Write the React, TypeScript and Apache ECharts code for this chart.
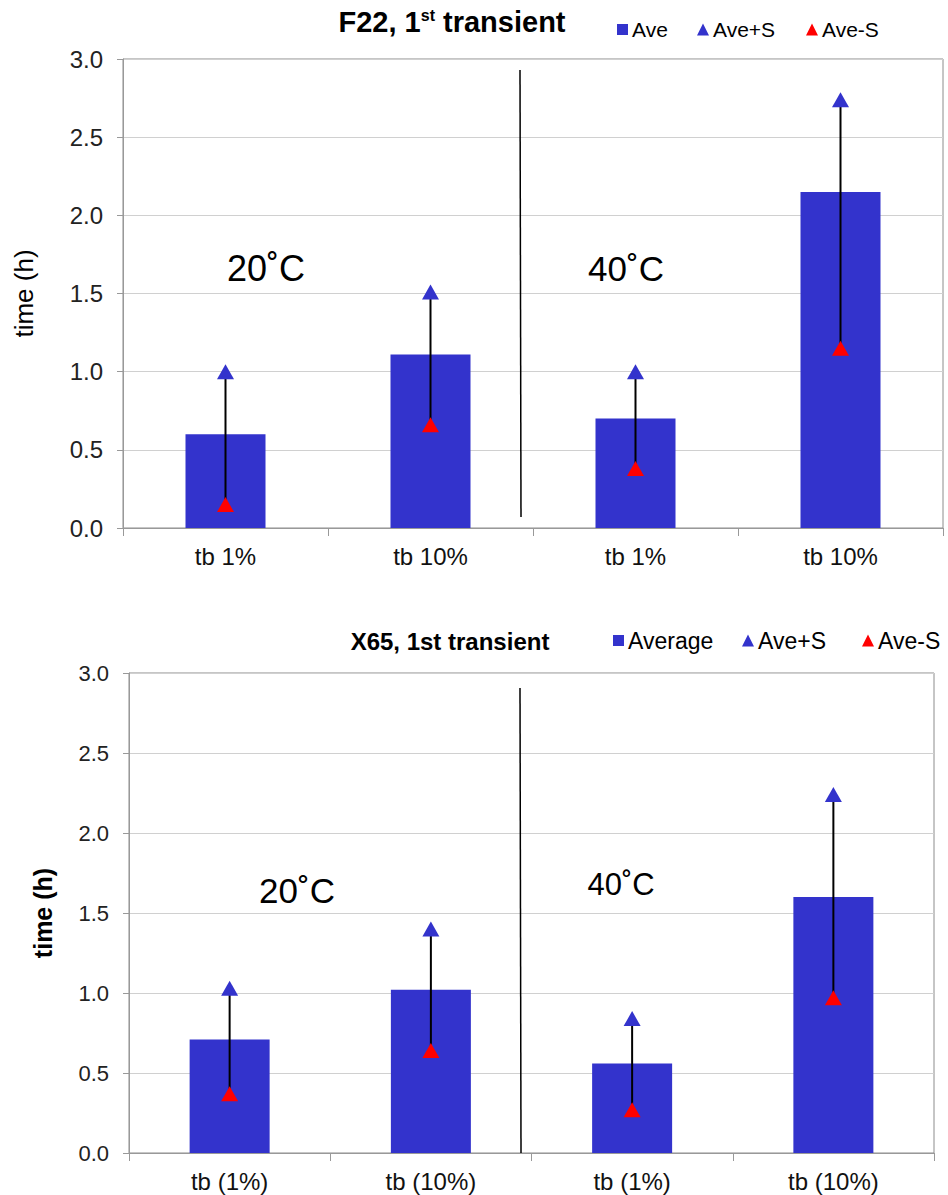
import React, { useEffect, useRef } from "react";
import * as echarts from "echarts";

// ---- Data ----
const topCategories = ["tb 1%", "tb 10%", "tb 1%", "tb 10%"];
const topAve = [0.6, 1.11, 0.7, 2.15];
const topAvePlusS = [1.0, 1.51, 1.0, 2.74];
const topAveMinusS = [0.15, 0.66, 0.38, 1.15];

const botCategories = ["tb (1%)", "tb (10%)", "tb (1%)", "tb (10%)"];
const botAve = [0.71, 1.02, 0.56, 1.6];
const botAvePlusS = [1.03, 1.4, 0.84, 2.24];
const botAveMinusS = [0.37, 0.64, 0.27, 0.97];

const yTicks = { min: 0, max: 3, interval: 0.5 };

const BLUE = "#3333cc";
const RED = "#ff0000";
const SANS = "'Liberation Sans', Arial, sans-serif";

function errorSeries(name: string, idx: number, lo: number[], hi: number[]) {
  return {
    type: "custom",
    name,
    xAxisIndex: idx,
    yAxisIndex: idx,
    z: 3,
    silent: true,
    encode: { x: 0, y: [1, 2] },
    data: lo.map((v, i) => [i, v, hi[i]]),
    renderItem: (params: any, api: any) => {
      const p1 = api.coord([api.value(0), api.value(1)]);
      const p2 = api.coord([api.value(0), api.value(2)]);
      return {
        type: "line",
        shape: { x1: p1[0], y1: p1[1], x2: p2[0], y2: p2[1] },
        style: { stroke: "#000", lineWidth: 2 },
      };
    },
  };
}

function legendItem(name: string, icon: string, left: number, top: number, fs: number, size: number) {
  return {
    left,
    top,
    itemWidth: size,
    itemHeight: size,
    itemGap: 0,
    padding: 0,
    textStyle: { fontFamily: SANS, fontSize: fs, color: "#000", padding: [0, 0, 0, -1] },
    data: [{ name, icon }],
  };
}

export default function App() {
  const ref = useRef<HTMLDivElement>(null);
  useEffect(() => {
    if (!ref.current) return;
    const chart = echarts.init(ref.current, undefined, { renderer: "svg" });

    const yAxisBase = (idx: number, nameGap: number, bold: boolean, fs: number) => ({
      type: "value",
      gridIndex: idx,
      min: yTicks.min,
      max: yTicks.max,
      interval: yTicks.interval,
      name: "time (h)",
      nameLocation: "middle",
      nameRotate: 90,
      nameGap,
      nameTextStyle: {
        fontFamily: SANS,
        fontSize: bold ? 25 : 26,
        fontWeight: bold ? "bold" : "normal",
        color: "#000",
      },
      axisLine: { show: true, lineStyle: { color: "#999", width: 1 } },
      axisTick: { show: true, length: 6, lineStyle: { color: "#999" } },
      axisLabel: {
        margin: 20,
        fontFamily: SANS,
        fontSize: fs,
        color: "#222",
        formatter: (v: number) => v.toFixed(1),
      },
      splitLine: { show: true, lineStyle: { color: "#d0d0d0", width: 1 } },
    });

    const xAxisBase = (idx: number, data: string[], fs: number) => ({
      type: "category",
      gridIndex: idx,
      data,
      boundaryGap: true,
      axisLine: { show: true, lineStyle: { color: "#999", width: 1 } },
      axisTick: { show: true, length: 8, lineStyle: { color: "#999" } },
      axisLabel: {
        margin: 16,
        fontFamily: SANS,
        fontSize: fs,
        color: "#111",
      },
      splitLine: { show: false },
    });

    const tri = (color: string) => ({
      symbol: "triangle",
      symbolSize: [17, 15],
      itemStyle: { color, opacity: 1 },
      z: 4,
    });

    const option: any = {
      animation: false,
      backgroundColor: "#fff",
      grid: [
        {
          left: 123,
          top: 59,
          width: 820,
          height: 469,
          show: true,
          borderColor: "#8c8c8c",
          borderWidth: 1,
          backgroundColor: "transparent",
        },
        {
          left: 129,
          top: 673,
          width: 805,
          height: 480,
          show: true,
          borderColor: "#8c8c8c",
          borderWidth: 1,
          backgroundColor: "transparent",
        },
      ],
      xAxis: [xAxisBase(0, topCategories, 24), xAxisBase(1, botCategories, 24)],
      yAxis: [yAxisBase(0, 86, false, 24), yAxisBase(1, 74, true, 22)],
      legend: [
        legendItem("Ave", "rect", 617, 19, 21, 11),
        legendItem("Ave+S", "triangle", 697, 19, 21, 12),
        legendItem("Ave-S", "triangle", 806, 19, 21, 12),
        legendItem("Average", "rect", 613, 629, 23, 11),
        legendItem("Ave+S", "triangle", 742, 629, 23, 12),
        legendItem("Ave-S", "triangle", 862, 629, 23, 12),
      ],
      series: [
        {
          type: "bar",
          name: "Ave",
          xAxisIndex: 0,
          yAxisIndex: 0,
          barWidth: 80,
          itemStyle: { color: BLUE },
          data: topAve,
          z: 2,
        },
        errorSeries("errTop", 0, topAveMinusS, topAvePlusS),
        { type: "scatter", name: "Ave+S", xAxisIndex: 0, yAxisIndex: 0, data: topAvePlusS, ...tri(BLUE) },
        { type: "scatter", name: "Ave-S", xAxisIndex: 0, yAxisIndex: 0, data: topAveMinusS, ...tri(RED) },
        {
          type: "bar",
          name: "Average",
          xAxisIndex: 1,
          yAxisIndex: 1,
          barWidth: 80,
          itemStyle: { color: BLUE },
          data: botAve,
          z: 2,
        },
        errorSeries("errBot", 1, botAveMinusS, botAvePlusS),
        { type: "scatter", name: "Ave+S", xAxisIndex: 1, yAxisIndex: 1, data: botAvePlusS, ...tri(BLUE) },
        { type: "scatter", name: "Ave-S", xAxisIndex: 1, yAxisIndex: 1, data: botAveMinusS, ...tri(RED) },
      ],
      graphic: [
        {
          type: "text",
          x: 452,
          y: 22,
          style: {
            text: "{a|F22, 1}{s|st}{a| transient}",
            align: "center",
            verticalAlign: "middle",
            rich: {
              a: { fontFamily: SANS, fontWeight: "bold", fontSize: 29, fill: "#000" },
              s: {
                fontFamily: SANS,
                fontWeight: "bold",
                fontSize: 16,
                fill: "#000",
                verticalAlign: "top",
                padding: [0, 0, 14, 0],
              },
            },
          },
        },
        {
          type: "text",
          x: 450,
          y: 641,
          style: {
            text: "X65, 1st transient",
            align: "center",
            verticalAlign: "middle",
            fontFamily: SANS,
            fontWeight: "bold",
            fontSize: 24,
            fill: "#000",
          },
        },
        {
          type: "text",
          x: 266,
          y: 268,
          style: { text: "20˚C", align: "center", verticalAlign: "middle", fontFamily: SANS, fontSize: 36, fill: "#000" },
        },
        {
          type: "text",
          x: 626,
          y: 268,
          style: { text: "40˚C", align: "center", verticalAlign: "middle", fontFamily: SANS, fontSize: 35, fill: "#000" },
        },
        {
          type: "text",
          x: 297,
          y: 890,
          style: { text: "20˚C", align: "center", verticalAlign: "middle", fontFamily: SANS, fontSize: 35, fill: "#000" },
        },
        {
          type: "text",
          x: 621,
          y: 884,
          style: { text: "40˚C", align: "center", verticalAlign: "middle", fontFamily: SANS, fontSize: 31, fill: "#000" },
        },
        {
          type: "line",
          shape: { x1: 520, y1: 70, x2: 521, y2: 517 },
          style: { stroke: "#000", lineWidth: 1.5 },
          z: 10,
        },
        {
          type: "line",
          shape: { x1: 520, y1: 688, x2: 521, y2: 1153 },
          style: { stroke: "#000", lineWidth: 1.5 },
          z: 10,
        },
      ],
    };

    chart.setOption(option);
    return () => chart.dispose();
  }, []);

  return (
    <div
      ref={ref}
      style={{ position: "absolute", left: 0, top: 0, width: 948, height: 1195 }}
    />
  );
}
